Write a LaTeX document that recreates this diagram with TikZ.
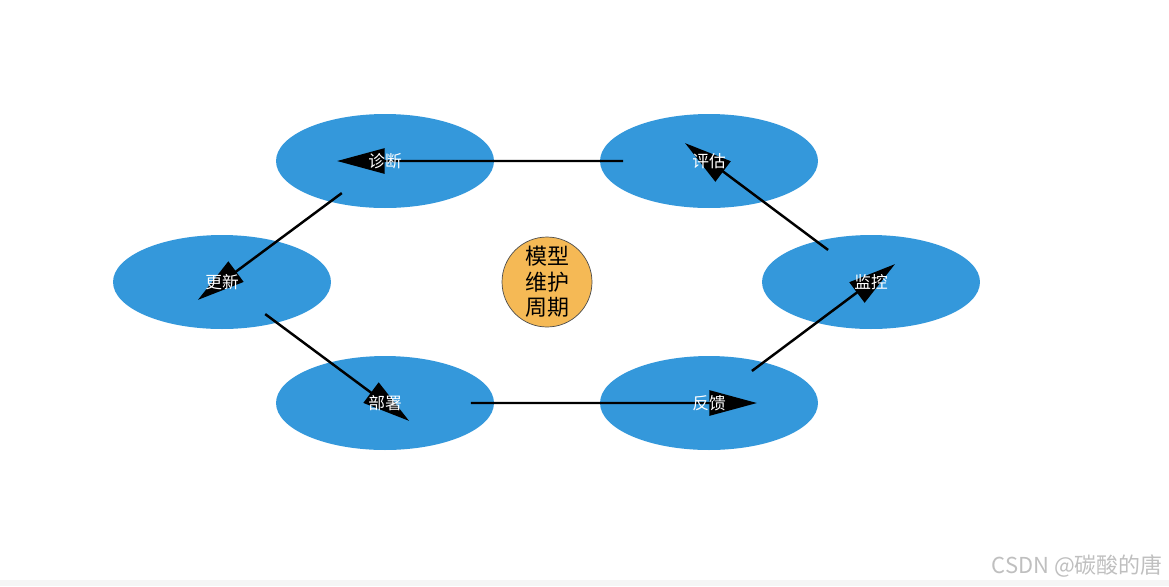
\documentclass[tikz,border=0pt]{standalone}
\usepackage{fontspec}
\newfontfamily\cjk{Noto Sans CJK SC}
\usetikzlibrary{arrows.meta,calc,shapes.geometric}
\definecolor{stageblue}{RGB}{52,152,219}
\definecolor{huborange}{RGB}{245,185,85}

\begin{document}
\begin{tikzpicture}[x=0.02cm,y=-0.02cm,
    stage/.style={ellipse,fill=stageblue,minimum width=4.36cm,minimum height=1.88cm,inner sep=0pt},
    stagetext/.style={text=white,inner sep=0pt,font=\cjk\fontsize{9.5}{11}\selectfont},
    flow/.style={-{Triangle[length=0.95cm,width=0.5cm]},line width=1.4pt,black}]
        \useasboundingbox (0,0) rectangle (1169,586);
        \fill[black!4] (0,580) rectangle (1169,586);
        % stages
        \node[stage] (zhenduan) at (385,161) {};
        \node[stage] (pinggu) at (709,161) {};
        \node[stage] (gengxin) at (222,282) {};
        \node[stage] (jiankong) at (871,282) {};
        \node[stage] (bushu) at (385,403) {};
        \node[stage] (fankui) at (709,403) {};
        \node[circle,draw=black!70,fill=huborange,minimum size=1.8cm,inner sep=0pt,align=center,
              font=\cjk\fontsize{12.5}{14.5}\selectfont] (hub) at (547,282) {模型\\维护\\周期};
        % cycle
        \foreach \a/\b in {pinggu/zhenduan,zhenduan/gengxin,gengxin/bushu,bushu/fankui,fankui/jiankong,jiankong/pinggu}
            \draw[flow] ($(\a)!0.265!(\b)$) -- ($(\a)!1.148!(\b)$);
        \node[stagetext] (zhenduan-t) at (zhenduan) {诊断};
        \node[stagetext] (pinggu-t) at (pinggu) {评估};
        \node[stagetext] (gengxin-t) at (gengxin) {更新};
        \node[stagetext] (jiankong-t) at (jiankong) {监控};
        \node[stagetext] (bushu-t) at (bushu) {部署};
        \node[stagetext] (fankui-t) at (fankui) {反馈};
        \node[anchor=east,text=black!25,inner sep=0pt,font=\cjk\fontsize{12.5}{15}\selectfont] (mark) at (1163,566) {CSDN @碳酸的唐};
    \end{tikzpicture}
\end{document}
